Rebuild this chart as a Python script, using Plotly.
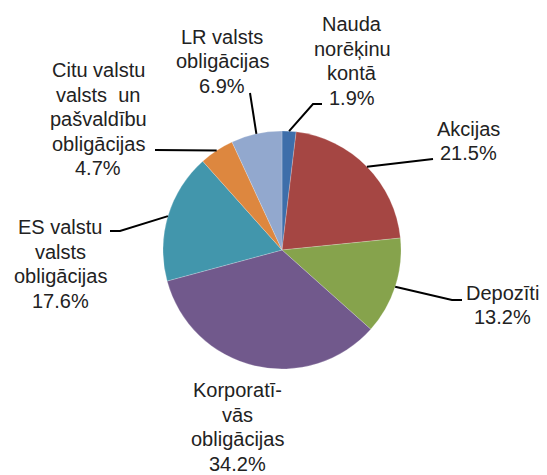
import math
import plotly.graph_objects as go

# ---- data ----
categories = ["Nauda norēķinu kontā", "Akcijas", "Depozīti", "Korporatīvās obligācijas",
              "ES valstu valsts obligācijas", "Citu valstu valsts un pašvaldību obligācijas",
              "LR valsts obligācijas"]
values = [1.9, 21.5, 13.2, 34.2, 17.6, 4.7, 6.9]
label_lines = [
    ["Nauda", "norēķinu", "kontā"],
    ["Akcijas"],
    ["Depozīti"],
    ["Korporatī-", "vās", "obligācijas"],
    ["ES valstu", "valsts", "obligācijas"],
    ["Citu valstu", "valsts\u00a0 un", "pašvaldību", "obligācijas"],
    ["LR valsts", "obligācijas"],
]
colors = ["#3E6EAA", "#A54643", "#86A34C", "#71598C", "#4296AC", "#DD873F", "#92A8CE"]

# ---- layout (page pixels) ----
OFF = 8  # page body margin
W, H = 547 - OFF, 475 - OFF
CX, CY, R = 282, 250, 119
LS = 24.5  # line spacing px
label_centers = [(352, 61), (468, 141), (502, 305), (237, 427), (60, 264), (98, 119), (222, 61)]
leader_pts = [[(313, 104), (322, 104)], [(433, 159)], [(452, 300), (462, 300)], None,
              [(120, 231), (110, 231)], [(155, 150)], [(250, 93)]]

def X(px):
    return (px - OFF) / W

def Y(py):
    return 1 - (py - OFF) / H

fig = go.Figure(go.Pie(
    labels=categories, values=values, sort=False, direction="clockwise", rotation=0,
    marker=dict(colors=colors, line=dict(color="rgba(255,255,255,0.35)", width=0.6)),
    textinfo="none", hoverinfo="label+percent", showlegend=False,
    domain=dict(x=[X(CX - R), X(CX + R)], y=[Y(CY + R), Y(CY - R)]),
))

total = sum(values)
annotations = []
shapes = []
cum = 0.0
for i, v in enumerate(values):
    mid = (cum + v / 2) / total * 2 * math.pi
    cum += v
    ax = CX + R * math.sin(mid)
    ay = CY - R * math.cos(mid)
    lines = label_lines[i] + [f"{v / total * 100:.1f}%"]
    xc, yc = label_centers[i]
    n = len(lines)
    for k, t in enumerate(lines):
        yy = yc + (k - (n - 1) / 2) * LS
        annotations.append(dict(
            x=X(xc), y=Y(yy), xref="paper", yref="paper", text=t, showarrow=False,
            xanchor="center", yanchor="middle",
            font=dict(family="Liberation Sans, Arial, sans-serif", size=20, color="#222222")))
    if leader_pts[i]:
        pts = [(ax, ay)] + leader_pts[i]
        path = "M " + " L ".join(f"{X(px):.5f} {Y(py):.5f}" for px, py in pts)
        shapes.append(dict(type="path", xref="paper", yref="paper", path=path,
                           line=dict(color="black", width=2), layer="above"))

fig.update_layout(
    width=W, height=H, margin=dict(l=0, r=0, t=0, b=0),
    paper_bgcolor="white", plot_bgcolor="white",
    annotations=annotations, shapes=shapes,
)
fig.write_html("out.html")
